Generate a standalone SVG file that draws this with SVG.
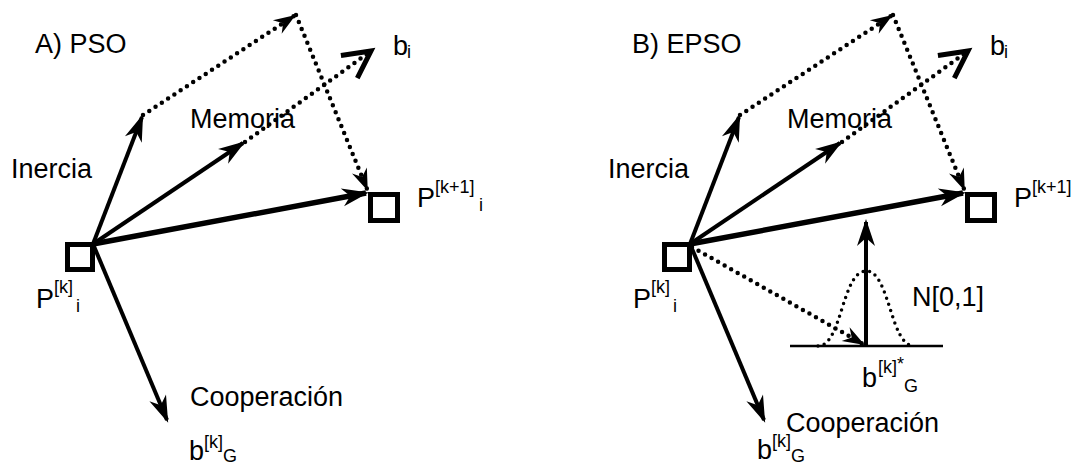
<svg xmlns="http://www.w3.org/2000/svg" width="1075" height="466" viewBox="0 0 1075 466">
  <style>
    .lbl { font-family: "Liberation Sans", Arial, sans-serif; font-size: 27px; fill: #000; }
    .sm { font-size: 18px; }
    .vec { stroke: #000; stroke-width: 4; fill: none; marker-end: url(#head); }
    .big { stroke: #000; stroke-width: 5.5; fill: none; marker-end: url(#head); }
    .dot { stroke: #000; stroke-width: 4.5; fill: none; stroke-dasharray: 0 7.5; stroke-linecap: round; }
    .dot-h { marker-end: url(#headSmall); }
    .dot-o { marker-end: url(#chevron); }
    .box { fill: #fff; stroke: #000; stroke-width: 5; }
  </style>
  <defs>
    <marker id="head" viewBox="-28 -11 34 22" refX="0" refY="0" markerWidth="34" markerHeight="22" orient="auto" markerUnits="userSpaceOnUse">
      <path d="M3,0 L-24,-9 L-16,0 L-24,9 Z" fill="#000"/>
    </marker>
    <marker id="headSmall" viewBox="-24 -10 28 20" refX="0" refY="0" markerWidth="28" markerHeight="20" orient="auto" markerUnits="userSpaceOnUse">
      <path d="M2,0 L-20,-8 L-13,0 L-20,8 Z" fill="#000"/>
    </marker>
    <marker id="chevron" viewBox="-32 -18 38 36" refX="0" refY="0" markerWidth="38" markerHeight="36" orient="auto" markerUnits="userSpaceOnUse">
      <path d="M-27,-14 L0,0 L-27,14" fill="none" stroke="#000" stroke-width="5"/>
    </marker>
  </defs>

  <!-- Panel A: PSO -->
  <g id="panel-pso">
    <g id="connectors-pso">
      <line class="vec" x1="93" y1="244" x2="142" y2="117"/>
      <line class="vec" x1="93" y1="244" x2="243" y2="143"/>
      <line class="vec" x1="93" y1="244" x2="167" y2="420"/>
      <line class="big" x1="93" y1="244" x2="366" y2="193"/>
      <line class="dot dot-h" x1="143" y1="115" x2="294" y2="16"/>
      <line class="dot dot-h" x1="296" y1="15" x2="367" y2="189"/>
      <line class="dot dot-o" x1="245" y1="142" x2="371" y2="51"/>
    </g>
    <g id="node-pk-a">
      <rect class="box" x="67.5" y="244.5" width="25" height="25"/>
      <text class="lbl" x="36" y="308">P<tspan class="sm" x="54" y="293">[k]</tspan><tspan class="sm" x="76" y="312">i</tspan></text>
    </g>
    <g id="node-pk1-a">
      <rect class="box" x="370.5" y="194.5" width="27" height="26"/>
      <text class="lbl" x="417" y="207">P<tspan class="sm" x="435" y="193">[k+1]</tspan><tspan class="sm" x="479" y="211">i</tspan></text>
    </g>
    <g id="labels-pso">
      <text class="lbl" x="35" y="53">A) PSO</text>
      <text class="lbl" x="11" y="178">Inercia</text>
      <text class="lbl" x="190" y="128">Memoria</text>
      <text class="lbl" x="190" y="406">Cooperación</text>
      <text class="lbl" x="393" y="55">b<tspan class="sm" x="407" y="58">i</tspan></text>
      <text class="lbl" x="189" y="460">b<tspan class="sm" x="204" y="448">[k]</tspan><tspan class="sm" x="223" y="462">G</tspan></text>
    </g>
  </g>

  <!-- Panel B: EPSO -->
  <g id="panel-epso">
    <g id="connectors-epso">
      <line class="vec" x1="690" y1="244" x2="739" y2="117"/>
      <line class="vec" x1="690" y1="244" x2="840" y2="143"/>
      <line class="vec" x1="690" y1="244" x2="764" y2="420"/>
      <line class="big" x1="690" y1="244" x2="963" y2="193"/>
      <line class="dot dot-h" x1="740" y1="115" x2="891" y2="16"/>
      <line class="dot dot-h" x1="893" y1="15" x2="964" y2="189"/>
      <line class="dot dot-o" x1="842" y1="142" x2="968" y2="51"/>
      <line class="dot dot-h" x1="692" y1="247" x2="863" y2="344"/>
      <!-- normal distribution around the global best -->
      <line x1="790" y1="346" x2="943" y2="346" stroke="#000" stroke-width="2.5"/>
      <path d="M818,346 C842,346 842,271 866,271 C890,271 890,346 914,346" fill="none" stroke="#000" stroke-width="3.5" stroke-dasharray="0 6.5" stroke-linecap="round"/>
      <line class="vec" x1="866" y1="346" x2="866" y2="222"/>
    </g>
    <g id="node-pk-b">
      <rect class="box" x="664.5" y="244.5" width="25" height="25"/>
      <text class="lbl" x="633" y="308">P<tspan class="sm" x="651" y="293">[k]</tspan><tspan class="sm" x="673" y="312">i</tspan></text>
    </g>
    <g id="node-pk1-b">
      <rect class="box" x="967.5" y="194.5" width="27" height="26"/>
      <text class="lbl" x="1014" y="207">P<tspan class="sm" x="1032" y="193">[k+1]</tspan></text>
    </g>
    <g id="labels-epso">
      <text class="lbl" x="632" y="53">B) EPSO</text>
      <text class="lbl" x="608" y="178">Inercia</text>
      <text class="lbl" x="787" y="128">Memoria</text>
      <text class="lbl" x="786" y="432">Cooperación</text>
      <text class="lbl" x="990" y="55">b<tspan class="sm" x="1004" y="58">i</tspan></text>
      <text class="lbl" x="757" y="459">b<tspan class="sm" x="772" y="447">[k]</tspan><tspan class="sm" x="791" y="462">G</tspan></text>
      <text class="lbl" x="912" y="306">N[0,1]</text>
      <text class="lbl" x="862" y="387">b<tspan class="sm" x="878" y="373">[k]</tspan><tspan class="sm" x="897" y="370">*</tspan><tspan class="sm" x="904" y="392">G</tspan></text>
    </g>
  </g>
</svg>
